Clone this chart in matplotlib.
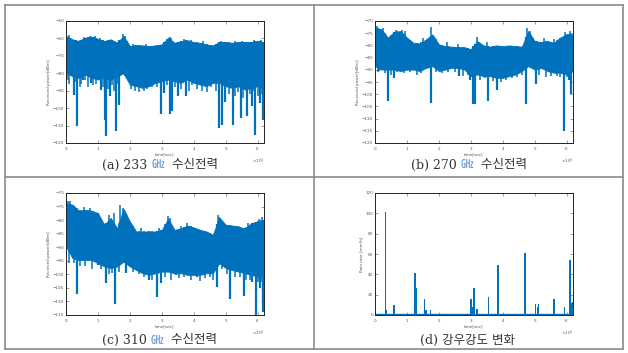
import numpy as np
import matplotlib
matplotlib.use("Agg")
import matplotlib.pyplot as plt
from matplotlib.lines import Line2D
from matplotlib.ticker import ScalarFormatter

BLUE = "#0072BD"

# envelope sample times (x 1e4 sec)
t_env = [0, 0.2, 0.4, 0.6, 0.8, 1.0, 1.2, 1.4, 1.6, 1.8, 2.0, 2.2, 2.4, 2.6, 2.8, 3.0,
         3.2, 3.4, 3.6, 3.8, 4.0, 4.2, 4.4, 4.6, 4.8, 5.0, 5.2, 5.4, 5.6, 5.8, 6.0, 6.2]

# (a) 233 GHz
a_high = [-58.6, -60.5, -61.5, -59.6, -59.0, -60.2, -61.5, -60.5, -62.5, -58.6, -64.4, -63.8,
          -64.0, -64.4, -64.0, -63.4, -59.6, -62.5, -61.5, -61.0, -62.1, -62.5, -63.4, -64.0,
          -62.1, -62.1, -62.5, -62.1, -62.1, -62.1, -61.5, -62.1]
a_low = [-79.7, -81.7, -82.6, -80.7, -82.6, -83.6, -82.6, -83.6, -81.7, -80.0, -86.5, -87.4,
         -88.4, -87.4, -85.5, -84.6, -83.6, -84.6, -85.5, -83.6, -85.5, -86.5, -87.4, -85.5,
         -85.5, -87.4, -88.4, -87.4, -89.3, -88.4, -87.4, -88.4]
a_dip_t = [0.14, 0.24, 0.36, 0.53, 0.78, 1.09, 1.23, 1.26, 1.375, 1.56, 1.67, 1.9, 2.97, 3.07,
           3.26, 3.33, 3.51, 3.75, 4.8, 4.88, 4.97, 5.24, 5.47, 5.68, 5.83, 5.92, 6.06, 6.16]
a_dip_v = [-80.7, -92.2, -110.1, -83.6, -85.5, -89.7, -107.0, -115.8, -93.2, -113.3, -98.0,
           -81.3, -103.4, -91.3, -103.4, -101.8, -93.2, -93.2, -111.4, -109.9, -96.6, -109.5,
           -105.7, -104.7, -98.9, -115.3, -97.0, -106.6]
a_small_t = [0.05, 0.1, 0.3, 0.45, 0.48, 0.6, 0.7, 0.85, 0.95, 1.15, 1.3, 1.45, 1.5, 1.62,
             2.05, 2.15, 2.3, 2.45, 2.55, 2.7, 2.85, 3.15, 3.4, 3.6, 3.85, 3.95, 4.1, 4.25,
             4.4, 4.55, 4.7, 5.1, 5.3, 5.4, 5.55, 5.75, 5.88, 6.0, 6.12]
a_small_v = [-84, -86, -85, -88, -86, -84, -88, -87, -86, -88, -89, -87, -90, -86,
             -89, -90, -91, -90, -89, -88, -88, -87, -88, -89, -90, -87, -89, -90,
             -91, -88, -90, -92, -93, -91, -94, -92, -90, -93, -92]
a_peak_t = [0.1, 0.55, 0.75, 0.9, 1.05, 1.78, 1.85, 2.1, 2.5, 3.25, 3.3, 3.7, 3.9, 4.3,
            4.85, 5.3, 5.5, 5.9, 6.1]
a_peak_v = [-58, -59, -58.5, -58.5, -59.5, -57.5, -58.5, -63, -63, -59, -60, -60.5, -60.8,
            -61.5, -61.5, -61.5, -61.5, -61, -61]

# (b) 270 GHz
b_high = [-72.7, -73.4, -76.8, -74.5, -74.1, -76.8, -78.9, -79.2, -77.5, -75.5, -79.6, -80.3,
          -80.5, -80.7, -80.7, -81.6, -78.2, -80.0, -80.5, -80.0, -80.3, -80.0, -80.3, -80.5,
          -74.1, -78.2, -78.6, -78.2, -78.9, -76.8, -75.5, -75.5]
b_low = [-88.5, -89.9, -89.9, -89.9, -90.5, -89.9, -89.9, -90.5, -89.2, -88.5, -90.5, -89.9,
         -89.2, -89.2, -89.9, -92.6, -91.9, -92.6, -92.6, -93.3, -93.3, -92.6, -91.9, -90.5,
         -88.5, -89.9, -89.2, -90.5, -91.2, -91.2, -91.9, -90.5]
b_dip_t = [0.14, 0.40, 0.59, 1.75, 2.64, 2.97, 3.07, 3.13, 3.54, 3.83, 4.72, 5.03, 5.93, 6.08, 6.15]
b_dip_v = [-90.5, -102.9, -93.3, -103.6, -92.6, -94.0, -104.2, -104.2, -102.9, -98.1, -104.2,
           -96.0, -115.2, -94.0, -100.1]
b_small_t = [0.08, 0.3, 0.5, 0.7, 0.9, 1.1, 1.3, 1.45, 1.9, 2.1, 2.3, 2.5, 2.75, 2.9, 3.3,
             3.45, 3.7, 3.95, 4.1, 4.3, 4.45, 4.6, 5.15, 5.35, 5.5, 5.7, 5.8, 6.0]
b_small_v = [-91, -91.5, -92, -91, -91.5, -91, -92, -91.5, -91, -91.5, -91, -91, -92.5, -92,
             -94, -93.5, -94.5, -95, -94, -93.5, -93, -92, -92, -93, -92.5, -92.5, -93, -93]
b_peak_t = [0.05, 0.25, 0.65, 0.85, 0.95, 1.5, 1.75, 2.25, 2.6, 3.2, 3.5, 4.75, 4.85, 5.3,
            5.6, 5.95, 6.1]
b_peak_v = [-72, -73, -73.5, -73.5, -74, -77, -72.5, -78.5, -79.5, -76.5, -78.5, -72.8, -74,
            -77, -77.5, -74.5, -74]

# (c) 310 GHz
c_high = [-73.7, -74.3, -76.5, -76.2, -76.5, -77.4, -81.7, -79.2, -83.0, -75.8, -80.5, -84.2,
          -84.2, -84.2, -84.2, -83.6, -79.5, -83.6, -83.0, -82.0, -82.7, -83.6, -84.2, -85.4,
          -79.0, -81.7, -82.0, -82.3, -83.2, -81.1, -80.5, -79.9]
c_low = [-89.7, -94.0, -94.7, -94.7, -94.7, -95.9, -97.1, -97.7, -97.1, -95.3, -97.1, -98.4,
         -99.6, -100.2, -99.6, -99.0, -99.0, -99.6, -99.6, -100.2, -100.2, -100.2, -99.6, -99.6,
         -95.9, -97.7, -98.4, -99.0, -99.6, -100.2, -100.8, -100.8]
c_dip_t = [0.34, 0.99, 1.25, 1.54, 1.88, 2.6, 2.86, 2.97, 3.44, 4.11, 4.72, 5.14, 5.57, 5.83,
           5.94, 6.07, 6.18]
c_dip_v = [-107.4, -96.5, -103.3, -110.9, -99.6, -102.0, -108.2, -103.3, -100.2, -100.8, -104.5,
           -109.0, -107.9, -102.7, -115.0, -105.1, -113.8]
c_small_t = [0.1, 0.25, 0.45, 0.6, 0.8, 1.1, 1.35, 1.45, 1.65, 2.1, 2.3, 2.45, 2.7, 3.1, 3.3,
             3.55, 3.7, 3.9, 4.2, 4.35, 4.5, 4.6, 4.9, 5.05, 5.3, 5.45, 5.65, 5.75, 6.0, 6.12]
c_small_v = [-96, -96, -97, -97, -98, -98, -100, -99.5, -99, -99, -100, -101, -102, -101, -102,
             -101.5, -101, -102, -102.5, -101.5, -101, -102, -98, -100, -101, -101, -102, -102,
             -103, -103]
c_peak_t = [0.05, 0.12, 0.35, 0.55, 0.75, 1.35, 1.5, 1.7, 1.8, 2.35, 2.9, 3.2, 3.25, 3.6, 3.8,
            4.75, 4.8, 5.7, 6.05, 6.15]
c_peak_v = [-73, -73, -75.5, -75.3, -75.5, -78, -77.5, -74.5, -75.5, -83, -83, -78.5, -79.3,
            -82, -81, -78, -78.8, -81, -79.5, -79]

# (d) rain rate
d_t = [0.33, 0.36, 0.60, 1.25, 1.28, 1.55, 1.60, 1.73, 3.00, 3.05, 3.10, 3.12, 3.20, 3.55,
       3.85, 3.87, 4.70, 5.03, 5.10, 5.12, 5.60, 5.93, 6.10, 6.15, 6.20]
d_v = [101, 5, 9.5, 41, 27, 15.5, 5, 5, 15.5, 8, 27, 13, 5.5, 17.5, 49, 20, 60.5, 10.5, 8, 10.5,
       16, 8, 54, 12, 13]

captions = ["(a) 233 ", "(b) 270 ", "(c) 310 ", "(d) 강우강도 변화"]

fig = plt.figure(figsize=(6.28, 3.53), dpi=100)

# table border
for x0, y0, x1, y1 in [(5, 5, 623, 5), (5, 349, 623, 349), (5, 5, 5, 349), (623, 5, 623, 349),
                       (314, 5, 314, 349), (5, 177, 623, 177)]:
    fig.add_artist(Line2D([x0 / 628, x1 / 628], [1 - y0 / 353, 1 - y1 / 353],
                          color="#8a8a8a", lw=1.2))


def style(ax, ylim, yticks, ylabel):
    ax.set_xlim(0, 62000)
    ax.set_ylim(*ylim)
    ax.set_yticks(yticks)
    ax.set_xticks(np.arange(0, 70000, 10000))
    ax.tick_params(direction="in", top=True, right=True, length=2, width=0.4,
                   labelsize=3, colors="#555555", pad=1.5)
    for s in ax.spines.values():
        s.set_linewidth(0.7)
        s.set_color("#222222")
    fmt = ScalarFormatter(useMathText=True)
    fmt.set_powerlimits((0, 0))
    ax.xaxis.set_major_formatter(fmt)
    ax.xaxis.get_offset_text().set_fontsize(3)
    ax.xaxis.get_offset_text().set_color("#555555")
    ax.set_xlabel("time[sec]", fontsize=3, color="#555555", labelpad=0.5)
    ax.set_ylabel(ylabel, fontsize=3, color="#555555", labelpad=1)


def band(ax, high, low, dip_t, dip_v, small_t, small_v, peak_t, peak_v):
    t = np.array(t_env) * 1e4
    ax.fill_between(t, low, high, color=BLUE, lw=0.6, edgecolor=BLUE)
    dt = np.array(dip_t) * 1e4
    ax.vlines(dt, dip_v, np.interp(dt, t, high), color=BLUE, lw=1.6)
    st = np.array(small_t) * 1e4
    ax.vlines(st, small_v, np.interp(st, t, high), color=BLUE, lw=1.1)
    pt = np.array(peak_t) * 1e4
    ax.vlines(pt, np.interp(pt, t, low), peak_v, color=BLUE, lw=1.1)


W, H = 198 / 628, 122 / 353
ax_a = fig.add_axes([66 / 628, 1 - 143 / 353, W, H])
ax_b = fig.add_axes([375 / 628, 1 - 143 / 353, W, H])
ax_c = fig.add_axes([66 / 628, 1 - 315 / 353, W, H])
ax_d = fig.add_axes([375 / 628, 1 - 315 / 353, W, H])

band(ax_a, a_high, a_low, a_dip_t, a_dip_v, a_small_t, a_small_v, a_peak_t, a_peak_v)
style(ax_a, (-120, -50), np.arange(-120, -49, 10), "Received power[dBm]")

band(ax_b, b_high, b_low, b_dip_t, b_dip_v, b_small_t, b_small_v, b_peak_t, b_peak_v)
style(ax_b, (-120, -70), np.arange(-120, -69, 5), "Received power[dBm]")

band(ax_c, c_high, c_low, c_dip_t, c_dip_v, c_small_t, c_small_v, c_peak_t, c_peak_v)
style(ax_c, (-115, -70), np.arange(-115, -69, 5), "Received power[dBm]")

ax_d.plot([0, 62000], [0.6, 0.6], color=BLUE, lw=1.0)
ax_d.bar(np.array(d_t) * 1e4, d_v, width=450, color=BLUE, lw=0)
style(ax_d, (0, 120), np.arange(0, 121, 20), "Rain rate [mm/h]")

fam = ["DejaVu Serif", "Noto Sans CJK KR"]
cap_x = [102, 411, 102, 420]
cap_y = [165, 165, 340, 340]
for i, cap in enumerate(captions):
    t0 = fig.text(cap_x[i] / 628, 1 - cap_y[i] / 353, cap, fontsize=9, family=fam,
                  color="#333333", va="center", ha="left")
    if i < 3:
        t1 = plt.annotate("㎓", xy=(1, 0.5), xycoords=t0, va="center", ha="left",
                          fontsize=9, family=fam, color="#5b8bd0")
        plt.annotate("  수신전력", xy=(1, 0.5), xycoords=t1, va="center", ha="left",
                     fontsize=9, family=fam, color="#333333")

fig.savefig("out.png", dpi=100)
